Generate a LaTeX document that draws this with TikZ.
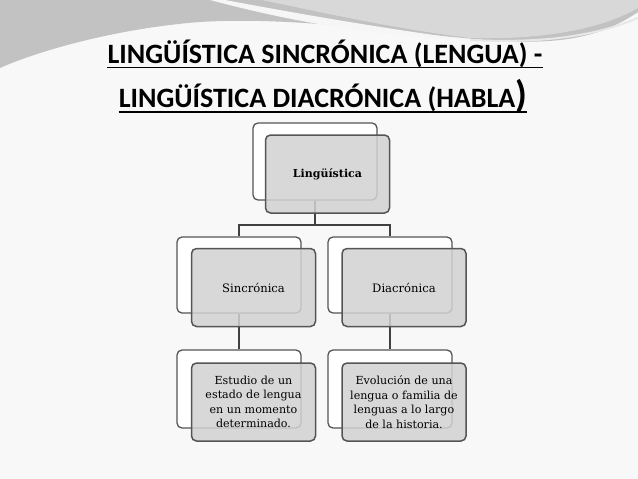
\documentclass[tikz,border=0pt]{standalone}
\usepackage{fontspec}
\setmainfont{DejaVu Serif}
\newfontfamily\titlefont{Carlito}
\definecolor{boxline}{HTML}{555555}
\definecolor{boxfill}{HTML}{D2D2D2}
\definecolor{connline}{HTML}{404040}
\definecolor{bggrey}{HTML}{C2C2C2}
\definecolor{bglight}{HTML}{D8D8D8}
\begin{document}
\begin{tikzpicture}[x=1pt,y=-1pt,
  backbox/.style={draw=boxline, fill=white, rounded corners=5pt, line width=1.3pt,
    minimum width=124pt, minimum height=77pt, inner sep=0pt},
  frontbox/.style={draw=boxline, fill=boxfill, fill opacity=0.85, text opacity=1,
    rounded corners=5pt, line width=1.5pt, minimum width=124pt, minimum height=78pt,
    inner sep=0pt, align=center, font=\fontsize{11.1}{14.5}\selectfont},
  conn/.style={draw=connline, line width=1.2pt},
  uline/.style={draw=black, line width=1.8pt},
  titletext/.style={font=\titlefont\bfseries\fontsize{28}{30}\selectfont, inner sep=0pt, anchor=base}]
% background
\fill[fill={rgb,255:red,248;green,248;blue,248}] (0,0) rectangle (638,479);
\useasboundingbox (0,0) rectangle (638,479);
\fill[bggrey] (0,0) -- (638,0) -- (638,12) .. controls (600,38) and (560,44) .. (500,41)
  .. controls (400,34) and (300,16) .. (200,22) .. controls (120,28) and (40,50) .. (0,68) -- cycle;
\fill[white!85!bggrey] (225,0) .. controls (300,14) and (380,28) .. (470,40)
  .. controls (380,36) and (300,24) .. (210,0) -- cycle;
\fill[bglight] (262,0) -- (638,0) -- (638,8) .. controls (600,30) and (540,40) .. (470,38)
  .. controls (390,28) and (320,12) .. (262,0) -- cycle;
\draw[white!60!bggrey, line width=2pt] (470,40) .. controls (550,44) and (600,34) .. (638,18);
% title
\node[titletext] (t1) at (325,63) {LINGÜÍSTICA SINCRÓNICA (LENGUA) -};
\node[titletext] (t2) at (323,107) {LINGÜÍSTICA DIACRÓNICA (HABLA{\fontsize{38}{38}\selectfont)}};
\draw[uline] ([yshift=-4.5pt]t1.base west) -- ([yshift=-4.5pt]t1.base east);
\draw[uline] ([yshift=-5pt]t2.base west) -- ([yshift=-5pt]t2.base east);
% back boxes
\node[backbox] (lb) at (315,161.5) {};
\node[backbox, minimum height=76pt] (sb) at (239,275) {};
\node[backbox, minimum height=76pt] (db) at (390,275) {};
\node[backbox, minimum height=78pt] (eb) at (239,389) {};
\node[backbox, minimum height=78pt] (vb) at (390,389) {};
% connectors
\coordinate (jn) at (315,225);
\draw[conn] (lb.south) -- (jn) -| (sb.north);
\draw[conn] (jn) -| (db.north);
\draw[conn] (sb.south) -- (eb.north);
\draw[conn] (db.south) -- (vb.north);
% front boxes
\node[frontbox, font=\bfseries\fontsize{11}{13}\selectfont] (lf) at (327.5,174) {Lingüística};
\node[frontbox, font=\fontsize{11.6}{14}\selectfont] (sf) at (253.5,287.5) {Sincrónica};
\node[frontbox, font=\fontsize{11.6}{14}\selectfont] (df) at (404,287.5) {Diacrónica};
\node[frontbox] (ef) at (253.5,402) {Estudio de un\\estado de lengua\\en un momento\\determinado.};
\node[frontbox] (vf) at (404,402) {Evolución de una\\lengua o familia de\\lenguas a lo largo\\de la historia.};
\end{tikzpicture}
\end{document}
